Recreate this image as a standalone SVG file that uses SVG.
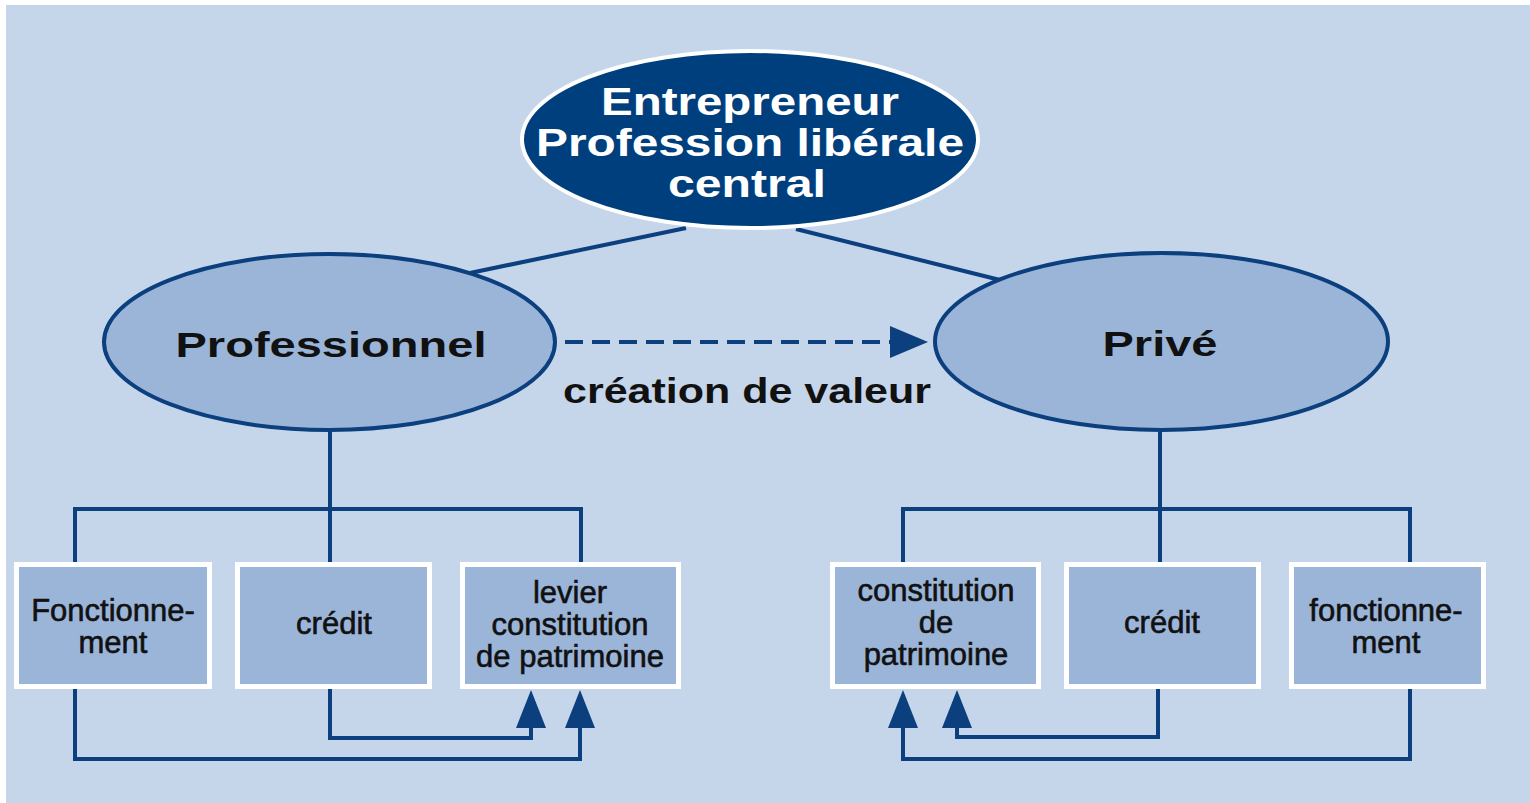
<svg xmlns="http://www.w3.org/2000/svg" width="1530" height="803" viewBox="0 0 1530 803">
<style>
.bg{fill:#C5D5EA}
.ell{fill:#9BB5D9;stroke:#0B3F7E;stroke-width:4}
.top{fill:#003F7D;stroke:#FFFFFF;stroke-width:4}
.box{fill:#9BB5D9;stroke:#FFFFFF;stroke-width:5}
.ln{fill:none;stroke:#0B3F7E;stroke-width:4;stroke-linejoin:miter}
.dash{stroke-dasharray:18 9}
.tw{font-family:"Liberation Sans",Arial,sans-serif;font-weight:bold;font-size:39px;fill:#FFFFFF;text-anchor:middle}
.tb{font-family:"Liberation Sans",Arial,sans-serif;font-weight:bold;font-size:35px;fill:#111111;text-anchor:middle}
.ts{font-family:"Liberation Sans",Arial,sans-serif;font-size:31px;fill:#111111;stroke:#111111;stroke-width:0.6;text-anchor:middle}
</style>
<defs>
<marker id="arrUp" markerUnits="userSpaceOnUse" viewBox="0 0 38 30" refX="0" refY="15" markerWidth="38" markerHeight="30" orient="auto">
<path d="M0,0 L38,15 L0,30 Z" fill="#0B3F7E"/>
</marker>
<marker id="arrR" markerUnits="userSpaceOnUse" viewBox="0 0 38 32" refX="0" refY="16" markerWidth="38" markerHeight="32" orient="auto">
<path d="M0,0 L38,16 L0,32 Z" fill="#0B3F7E"/>
</marker>
</defs>
<rect class="bg" x="6" y="5" width="1524" height="798"/>
<g id="connectors">
<line class="ln" x1="686" y1="228" x2="470" y2="273"/>
<line class="ln" x1="796" y1="229" x2="1004" y2="281"/>
<path class="ln" d="M330,432 V562"/>
<path class="ln" d="M75,562 V509 H581 V562"/>
<path class="ln" d="M1160,432 V562"/>
<path class="ln" d="M903,562 V509 H1410 V562"/>
<path class="ln" d="M75,688 V759 H580 V728" marker-end="url(#arrUp)"/>
<path class="ln" d="M330,688 V738 H531 V728" marker-end="url(#arrUp)"/>
<path class="ln" d="M1410,688 V759 H903 V728" marker-end="url(#arrUp)"/>
<path class="ln" d="M1158,688 V737 H957 V728" marker-end="url(#arrUp)"/>
<line class="ln dash" x1="565" y1="342" x2="890" y2="342" marker-end="url(#arrR)"/>
<text class="tb" x="747" y="403" textLength="368" lengthAdjust="spacingAndGlyphs">création de valeur</text>
</g>
<g id="node-top">
<ellipse class="top" cx="750" cy="139.5" rx="228" ry="88.5"/>
<text class="tw" x="750" y="115" textLength="298" lengthAdjust="spacingAndGlyphs">Entrepreneur</text>
<text class="tw" x="750" y="156" textLength="428" lengthAdjust="spacingAndGlyphs">Profession libérale</text>
<text class="tw" x="747" y="197" textLength="158" lengthAdjust="spacingAndGlyphs">central</text>
</g>
<g id="node-professionnel">
<ellipse class="ell" cx="329.5" cy="342" rx="225.5" ry="88"/>
<text class="tb" x="331" y="357" textLength="311" lengthAdjust="spacingAndGlyphs">Professionnel</text>
</g>
<g id="node-prive">
<ellipse class="ell" cx="1161.5" cy="341.5" rx="226.5" ry="88.5"/>
<text class="tb" x="1160" y="356" textLength="115" lengthAdjust="spacingAndGlyphs">Privé</text>
</g>
<g id="node-fonctionnement-pro">
<rect class="box" x="16.5" y="564.5" width="193" height="122"/>
<text class="ts" x="113" y="621">Fonctionne-</text>
<text class="ts" x="113" y="653">ment</text>
</g>
<g id="node-credit-pro">
<rect class="box" x="237.5" y="564.5" width="192" height="122"/>
<text class="ts" x="334" y="634">crédit</text>
</g>
<g id="node-levier">
<rect class="box" x="462.5" y="564.5" width="216" height="122"/>
<text class="ts" x="570" y="603">levier</text>
<text class="ts" x="570" y="635">constitution</text>
<text class="ts" x="570" y="667">de patrimoine</text>
</g>
<g id="node-constitution-prive">
<rect class="box" x="832.5" y="564.5" width="206" height="122"/>
<text class="ts" x="936" y="601">constitution</text>
<text class="ts" x="936" y="633">de</text>
<text class="ts" x="936" y="665">patrimoine</text>
</g>
<g id="node-credit-prive">
<rect class="box" x="1066.5" y="564.5" width="192" height="122"/>
<text class="ts" x="1162" y="633">crédit</text>
</g>
<g id="node-fonctionnement-prive">
<rect class="box" x="1291.5" y="564.5" width="192" height="122"/>
<text class="ts" x="1386" y="621">fonctionne-</text>
<text class="ts" x="1386" y="653">ment</text>
</g>
</svg>
